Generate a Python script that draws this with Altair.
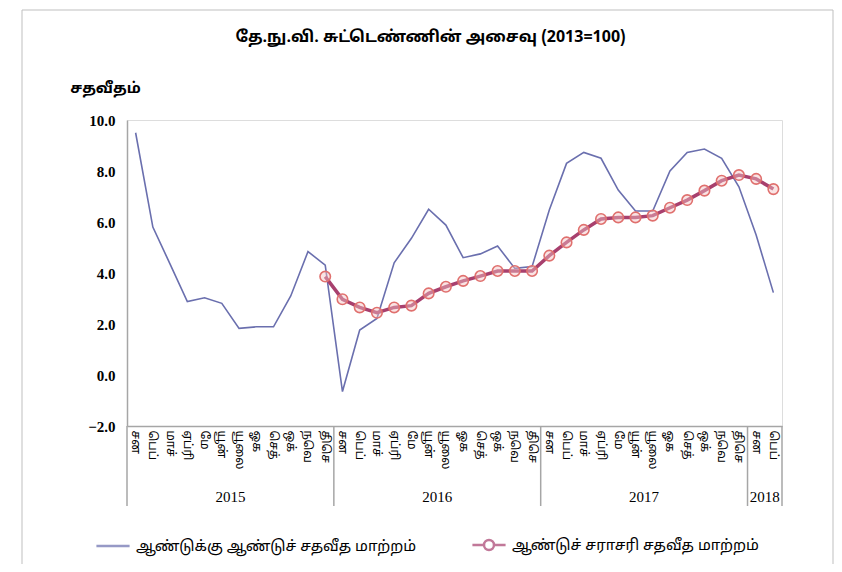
import altair as alt
import pandas as pd

# ---- data ----
months = ["சன", "பெப்", "மாச்", "ஏப்ரி", "மே", "யூன்", "யூலை", "ஓக", "செத்", "ஒக்", "நவெ", "திசெ"]
years = ["2015", "2016", "2017", "2018"]
year_mid = [5.5, 17.5, 29.5, 36.5]
year_bounds = [-0.5, 11.5, 23.5, 35.5, 37.5]

yoy = [9.5, 5.8, 4.35, 2.88, 3.03, 2.81, 1.83, 1.89, 1.89, 3.1, 4.84, 4.31,
       -0.65, 1.76, 2.22, 4.4, 5.36, 6.5, 5.88, 4.6, 4.75, 5.06, 4.18, 4.25,
       6.47, 8.3, 8.73, 8.5, 7.25, 6.43, 6.43, 8.0, 8.73, 8.86, 8.5, 7.38,
       5.49, 3.23]
avg = [None] * 11 + [3.86,
       2.97, 2.65, 2.44, 2.65, 2.72, 3.2, 3.46, 3.69, 3.88, 4.08, 4.08, 4.08,
       4.68, 5.2, 5.69, 6.12, 6.18, 6.18, 6.25, 6.56, 6.86, 7.23, 7.62, 7.84,
       7.69, 7.29]

s_yoy = "ஆண்டுக்கு ஆண்டுச் சதவீத மாற்றம்"
s_avg = "ஆண்டுச் சராசரி சதவீத மாற்றம்"
title_text = "தே.நு.வி. சுட்டெண்ணின் அசைவு (2013=100)"
y_title = "சதவீதம்"

TAMIL = "Noto Sans Tamil, Lohit Tamil, Latha, Noto Sans, sans-serif"
SERIF = "Liberation Serif, Times New Roman, serif"

n = len(yoy)
df = pd.DataFrame({"idx": list(range(n)), "yoy": yoy, "avg": avg})
df_avg = df.dropna(subset=["avg"])
df_years = pd.DataFrame({"year": years, "mid": year_mid})
df_bounds = pd.DataFrame({"b": year_bounds})
df_leg = pd.DataFrame({"series": [s_yoy, s_avg], "idx": [0, 0], "v": [0, 0]})
df_title = pd.DataFrame({"t": [title_text]})

W, H = 655, 306
month_js = "[" + ",".join("'" + m + "'" for m in months) + "]"

x_scale = alt.Scale(domain=[-0.5, n - 0.5], nice=False, zero=False)
y_scale = alt.Scale(domain=[-2, 10], nice=False, zero=False)

x_axis = alt.Axis(values=list(range(n)), labelExpr=month_js + "[datum.value % 12]",
                  labelAngle=90, labelAlign="left", labelBaseline="middle",
                  labelFont=TAMIL, labelFontSize=12, labelColor="#000",
                  labelPadding=4, ticks=False, grid=False, domainColor="#a6a6a6",
                  domainWidth=1.5, title=None, labelOverlap=False, labelBound=False,
                  labelFlush=False)
y_axis = alt.Axis(values=[-2, 0, 2, 4, 6, 8, 10], format=".1f", grid=False, ticks=False,
                  domainColor="#a6a6a6", domainWidth=1.5, labelFont=SERIF,
                  labelFontSize=15, labelFontWeight="bold", labelColor="#000",
                  labelPadding=12, title=y_title, titleAngle=0, titleFont=TAMIL,
                  titleFontSize=15, titleFontWeight="bold", titleColor="#000",
                  titleX=-22, titleY=-33, titleAlign="center", titleBaseline="middle")


def X(field):
    return alt.X(field, scale=x_scale, axis=x_axis)


def Y(field):
    return alt.Y(field, scale=y_scale, axis=y_axis)


line_yoy = alt.Chart(df).mark_line(color="#6a6fae", strokeWidth=1.6).encode(
    x=X("idx:Q"), y=Y("yoy:Q"))

line_avg = alt.Chart(df_avg).mark_line(color="#a8406e", strokeWidth=3.5).encode(
    x=X("idx:Q"), y=Y("avg:Q"))

pts_avg = alt.Chart(df_avg).mark_point(
    shape="circle", size=110, filled=True, fill="#f3c4c4", fillOpacity=0.45,
    stroke="#e0706e", strokeWidth=1.6, opacity=1
).encode(x=X("idx:Q"), y=Y("avg:Q"))

# legend-only layer (no visible marks; legend drawn from explicit scale domains)
leg_paths = ["M-1,0L1,0",
             "M-1,0L-0.3,0M0.3,0L1,0M0.3,0A0.3,0.3,0,1,1,-0.3,0A0.3,0.3,0,1,1,0.3,0"]
leg_def = alt.Legend(title=None, orient="none", direction="horizontal",
                     legendX=-32, legendY=407, labelFont=TAMIL,
                     labelFontSize=15, labelColor="#000", symbolSize=1100,
                     symbolStrokeWidth=2.5, columnPadding=50,
                     labelOffset=5, labelLimit=400)
legend_layer = alt.Chart(df_leg).transform_filter("false").mark_point(
    filled=False, strokeWidth=2.5
).encode(
    x=X("idx:Q"),
    y=Y("v:Q"),
    color=alt.Color("series:N", scale=alt.Scale(domain=[s_yoy, s_avg], range=["#6a6fae", "#a8406e"]),
                    legend=leg_def),
    shape=alt.Shape("series:N", scale=alt.Scale(domain=[s_yoy, s_avg], range=leg_paths),
                    legend=leg_def),
)

sep = alt.Chart(df_bounds).mark_rule(color="#a6a6a6", strokeWidth=1.5).encode(
    x=X("b:Q"), y=alt.value(H), y2=alt.value(H + 80))

year_txt = alt.Chart(df_years).mark_text(font=SERIF, fontSize=15, color="#000").encode(
    x=X("mid:Q"), y=alt.value(H + 71), text="year:N")

title_mark = alt.Chart(df_title).mark_text(
    font=TAMIL, fontSize=16, fontWeight="bold", color="#000", align="center", baseline="middle"
).encode(x=alt.value(W / 2 - 24), y=alt.value(-83), text="t:N")

frame = alt.Chart(df_years.head(1)).mark_rect(fill=None, stroke="#bfbfbf", strokeWidth=1).encode(
    x=alt.value(-105), x2=alt.value(706), y=alt.value(-110), y2=alt.value(446))

chart = alt.layer(frame, sep, year_txt, title_mark, line_yoy, line_avg, pts_avg, legend_layer).properties(
    width=W, height=H,
    autosize=alt.AutoSizeParams(type="none"),
    padding={"left": 119, "top": 112, "right": 52, "bottom": 138},
).configure_view(stroke=None).configure(background="white")

chart.save("out.html", embed_options={"renderer": "svg", "actions": False})
